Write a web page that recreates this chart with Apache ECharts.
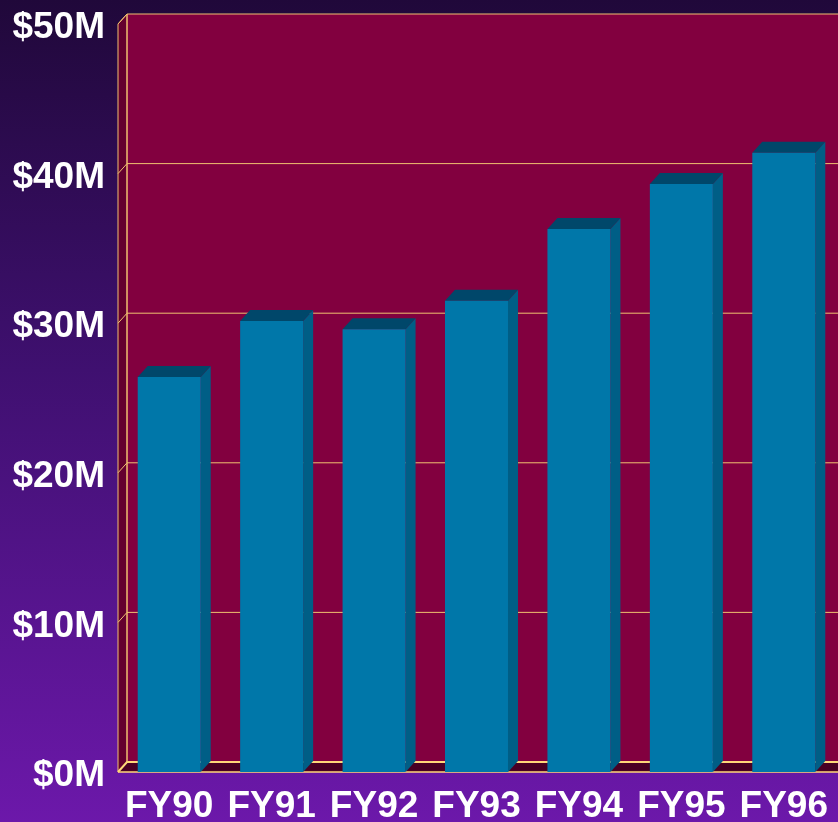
<!DOCTYPE html>
<html lang="en">
<head>
	<meta charset="UTF-8">
	<title>Revenue FY90-FY96</title>
	<script src="https://cdn.jsdelivr.net/npm/echarts@6/dist/echarts.min.js"></script>
	<style>
		html, body { margin: 0; padding: 0; }
		#main { width: 838px; height: 822px; }
	</style>
</head>
<body>
	<div id="main"></div>
	<script>
		// data (millions of dollars)
		var categories = ["FY90", "FY91", "FY92", "FY93", "FY94", "FY95", "FY96"];
		var revenue = [26.4, 30.15, 29.6, 31.5, 36.3, 39.3, 41.4];
		var yTicks = [0, 10, 20, 30, 40, 50];

		// 3d look: depth offset of walls and bars
		var DX = 9, DY = 10;
		var BAR_DX = 10, BAR_DY = 11;
		var GOLD = "#f0c070";

		var myChart = echarts.init(document.getElementById("main"));

		function frameItem(params, api) {
			var cs = params.coordSys;
			var x = cs.x, y = cs.y, w = cs.width, h = cs.height;
			var kids = [];
			// back wall
			kids.push({ type: "rect", shape: { x: x + DX, y: y - DY, width: w + 20, height: h },
				style: { fill: "#82003f" } });
			// left wall
			kids.push({ type: "polygon", shape: { points: [[x, y], [x + DX, y - DY], [x + DX, y + h - DY], [x, y + h]] },
				style: { fill: "#64002f", stroke: GOLD, lineWidth: 1 } });
			// floor
			kids.push({ type: "polygon", shape: { points: [[x, y + h], [x + DX, y + h - DY], [x + w + DX + 20, y + h - DY], [x + w + 20, y + h]] },
				style: { fill: "#4a0024" } });
			// grid lines across left wall and back wall
			yTicks.forEach(function (v) {
				var py = api.coord([0, v])[1];
				kids.push({ type: "polyline", shape: { points: [[x, py], [x + DX, py - DY], [x + w + DX + 20, py - DY]] },
					style: { stroke: v === 0 ? "#ffd878" : GOLD, lineWidth: v === 0 ? 2 : 1, fill: null } });
			});
			// front edges
			kids.push({ type: "line", shape: { x1: x, y1: y + h, x2: x + w + 20, y2: y + h },
				style: { stroke: "#ffd878", lineWidth: 1.5 } });
			kids.push({ type: "line", shape: { x1: x + DX, y1: y - DY, x2: x + DX, y2: y + h - DY },
				style: { stroke: GOLD, lineWidth: 1 } });
			return { type: "group", children: kids };
		}

		function barItem(params, api) {
			var idx = api.value(0);
			var top = api.coord([idx, api.value(1)]);
			var base = api.coord([idx, 0]);
			var bw = api.size([1, 0])[0] * 0.615;
			var l = top[0] - bw / 2, r = top[0] + bw / 2;
			var t = top[1], b = base[1];
			return {
				type: "group",
				children: [
					{ type: "polygon", shape: { points: [[r, t], [r + BAR_DX, t - BAR_DY], [r + BAR_DX, b - BAR_DY], [r, b]] },
						style: { fill: "#005e86" } },
					{ type: "polygon", shape: { points: [[l, t], [l + BAR_DX, t - BAR_DY], [r + BAR_DX, t - BAR_DY], [r, t]] },
						style: { fill: "#00476a" } },
					{ type: "rect", shape: { x: l, y: t, width: bw, height: b - t },
						style: { fill: "#0077a9" } }
				]
			};
		}

		myChart.setOption({
			backgroundColor: {
				type: "linear", x: 0, y: 0, x2: 0, y2: 1,
				colorStops: [
					{ offset: 0, color: "#20083a" },
					{ offset: 0.45, color: "#3f1070" },
					{ offset: 1, color: "#6c18aa" }
				]
			},
			animation: false,
			grid: { left: 118, right: 3, top: 24, bottom: 50, outerBoundsMode: "none", containLabel: false },
			xAxis: {
				type: "category",
				data: categories,
				axisLine: { show: false },
				axisTick: { show: false },
				axisLabel: {
					interval: 0,
					color: "#ffffff", fontFamily: "Liberation Sans", fontWeight: "bold",
					fontSize: 37, margin: 16
				}
			},
			yAxis: {
				type: "value",
				min: 0, max: 50, interval: 10,
				axisLine: { show: false },
				axisTick: { show: false },
				splitLine: { show: false },
				axisLabel: {
					color: "#ffffff", fontFamily: "Liberation Sans", fontWeight: "bold",
					fontSize: 37, margin: 13,
					formatter: function (v) { return "{v|$" + v + "M}"; },
					rich: {
						v: {
							color: "#ffffff", fontFamily: "Liberation Sans", fontWeight: "bold",
							fontSize: 37, padding: [8, 0, 0, 0]
						}
					}
				}
			},
			series: [
				{
					type: "custom",
					renderItem: frameItem,
					data: [[0, 0]],
					silent: true,
					clip: false,
					z: 1
				},
				{
					type: "custom",
					renderItem: barItem,
					data: revenue.map(function (v, i) { return [i, v]; }),
					clip: false,
					z: 2
				}
			]
		});
	</script>
</body>
</html>
